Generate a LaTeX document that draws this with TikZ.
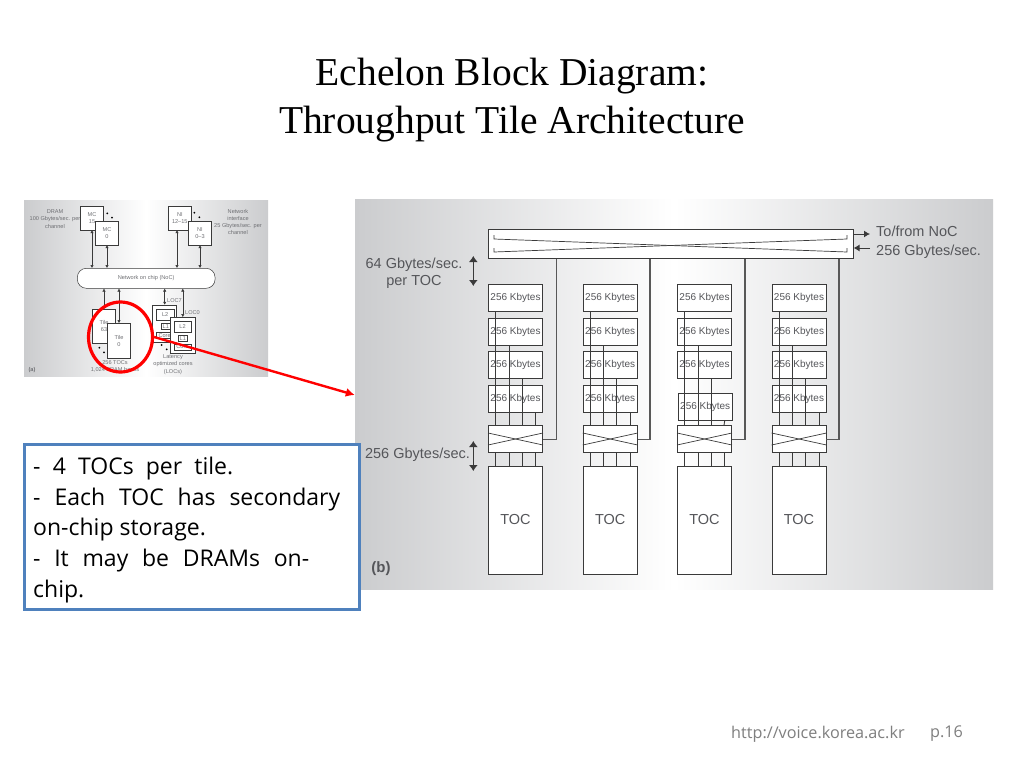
\documentclass[tikz,border=0pt]{standalone}
\usepackage{fontspec}
\usetikzlibrary{arrows.meta,shapes.geometric}
\setmainfont{Liberation Serif}
\setsansfont{Liberation Sans}
\newfontfamily\boxfont{Open Sans}
\definecolor{ink}{HTML}{3A3A3A}
\definecolor{label}{HTML}{55565A}
\definecolor{edge}{HTML}{CBCCCE}
\definecolor{callout}{HTML}{4F81BD}
\definecolor{foot}{HTML}{7F7F7F}
\tikzset{panel/.style={left color=edge,right color=edge,middle color=white,inner sep=0pt},
kbox/.style={draw=ink,fill=white,line width=.9pt,minimum width=54pt,minimum height=27pt,inner sep=0pt,font=\sffamily\fontsize{10}{12}\selectfont,text=label},
xbar/.style={draw=ink,fill=white,line width=.9pt,minimum width=54pt,minimum height=27pt,inner sep=0pt},
toc/.style={draw=ink,fill=white,line width=.9pt,minimum width=54pt,minimum height=108pt,font=\sffamily\fontsize{14.5}{15}\selectfont,text=label},
wire/.style={draw=ink,line width=.9pt},
link/.style={draw=ink!85,line width=1.3pt},
thin/.style={draw=ink,line width=.7pt},
lab/.style={font=\sffamily\fontsize{14.5}{17}\selectfont,text=label,align=center,inner sep=0pt},
tiny/.style={font=\sffamily\fontsize{5.6}{7.2}\selectfont,text=label!85,align=center,inner sep=0pt},
abox/.style={draw=ink,fill=white,line width=.5pt,inner sep=0pt,font=\sffamily\fontsize{5.6}{7.2}\selectfont,text=label!85,align=center},
aarrow/.style={{Latex[length=3pt,width=3.4pt]}-{Latex[length=3pt,width=3.4pt]},line width=.5pt,ink},
dbl/.style={{Latex[length=6pt,width=9pt]}-{Latex[length=6pt,width=9pt]},line width=1pt,ink},
dot/.style={circle,fill=black,inner sep=0pt,minimum size=2pt}}
\newcommand{\wire}[3]{\draw[wire]([xshift=#1pt]#2.south)--([xshift=#1pt]#3.north);}
\newcommand{\toclabel}{\raisebox{2pt}{TOC}}
\begin{document}
\begin{tikzpicture}[x=1pt,y=-1pt]
\useasboundingbox (0,0) rectangle (1024,768);
\fill[white] (0,0) rectangle (1024,768);
\node[font=\fontsize{39.5}{48}\selectfont,align=center,inner sep=0pt] (title) at (512,100) {Echelon Block Diagram:\\Throughput Tile Architecture};
% small panel
\node[panel,minimum width=244pt,minimum height=176pt] (pa) at (146,288) {};
\node[abox,minimum width=22.6pt,minimum height=23.3pt] (mc15) at (92,218.3) {MC\\15};
\node[abox,minimum width=22.6pt,minimum height=23.3pt] (mc0) at (107,233.3) {MC\\0};
\node[abox,minimum width=23.6pt,minimum height=23.3pt] (ni12) at (179.8,218.3) {NI\\12--15};
\node[abox,minimum width=23.4pt,minimum height=23.3pt] (ni0) at (200,233.3) {NI\\0--3};
\node[abox,rounded corners=9pt,minimum width=137.7pt,minimum height=20pt] (noc) at (146.2,278.3) {Network on chip (NoC)};
\node[abox,minimum width=23.4pt,minimum height=33.7pt] (t63) at (104,326.2) {Tile\\63};
\node[abox,minimum width=23.4pt,minimum height=34.7pt] (t0) at (119,340.7) {Tile\\0};
\node[abox,minimum width=24pt,minimum height=37pt] (loc7) at (164.7,323.5) {};
\node[abox,minimum width=18.3pt,minimum height=11pt] (l27) at (165.2,314.8) {L2};
\node[abox,minimum width=8.3pt,minimum height=6pt] (l17) at (165.8,326.3) {L1};
\node[abox,minimum width=17.3pt,minimum height=6pt] (c7) at (164.6,335.3) {Core};
\node[abox,minimum width=24.3pt,minimum height=36pt] (loc0) at (182.8,335.3) {};
\node[abox,minimum width=17pt,minimum height=10.6pt] (l20) at (182.5,327) {L2};
\node[abox,minimum width=9pt,minimum height=5.3pt] (l10) at (182.8,338.3) {L1};
\node[abox,minimum width=17pt,minimum height=6pt] (c0) at (182.5,347) {Core};
\draw[aarrow](mc15.south)--(mc15.south|-noc.north);\draw[aarrow](mc0.south)--(mc0.south|-noc.north);
\draw[aarrow]([xshift=-2.8pt]ni12.south)--([xshift=-2.8pt]ni12.south|-noc.north);\draw[aarrow](ni0.south)--(ni0.south|-noc.north);
\draw[aarrow](t63.north)--(t63.north|-noc.south);\draw[aarrow](t0.north)--(t0.north|-noc.south);
\draw[aarrow](loc7.north)--(loc7.north|-noc.south);\draw[aarrow](loc0.north)--(loc0.north|-noc.south);
\node[dot] (d1) at (107.3,213.3) {};\node[dot] (d2) at (112,217.7) {};
\node[dot] (d3) at (194.3,212.7) {};\node[dot] (d4) at (199.3,217.3) {};
\node[dot] (d5) at (99.3,347.7) {};\node[dot] (d6) at (104,352.3) {};
\node[dot] (d7) at (161.7,345) {};\node[dot] (d8) at (166.7,349.3) {};
\node[tiny] (dram) at (55,219) {DRAM\\100 Gbytes/sec. per\\channel};
\node[tiny] (net) at (238,222) {Network\\interface\\25 Gbytes/sec. per\\channel};
\node[tiny] (tocs) at (115,366) {256 TOCs\\1,024 SRAM banks};
\node[tiny] (lat) at (173,364.5) {Latency\\optimized cores\\(LOCs)};
\node[tiny] (n7) at (174.5,301) {LOC7};\node[tiny] (n0) at (192.5,313) {LOC0};
\node[tiny,font=\sffamily\bfseries\fontsize{5.6}{7}\selectfont] (pla) at (32,370) {(a)};
% big panel
\node[panel,minimum width=638pt,minimum height=390pt] (pb) at (674,394) {};
\node[draw=ink,fill=white,line width=1pt,minimum width=365pt,minimum height=29pt,inner sep=0pt] (noc2) at (670.5,243.5) {};
\draw[thin](494,235)--(494,239)--(847,252)--(847,248);\draw[thin](494,248)--(494,252)--(847,239)--(847,235);
% col 1
\node[kbox] (a1) at (515.5,297.5) {256 Kbytes};\node[kbox] (b1) at (515.5,331.5) {256 Kbytes};\node[kbox] (c1) at (515.5,365) {256 Kbytes};\node[kbox] (e1) at (515.5,398.7) {256 Kbytes};
\node[xbar] (x1) at (515.5,439.3) {};\node[toc] (t1) at (515.5,520.5) {\toclabel};
% col 2
\node[kbox] (a2) at (610.2,297.5) {256 Kbytes};\node[kbox] (b2) at (610.2,331.5) {256 Kbytes};\node[kbox] (c2) at (610.2,365) {256 Kbytes};\node[kbox] (e2) at (610.2,398.7) {256 Kbytes};
\node[xbar] (x2) at (610.2,439.3) {};\node[toc] (t2) at (610.2,520.5) {\toclabel};
% col 3
\node[kbox] (a3) at (704.5,297.5) {256 Kbytes};\node[kbox] (b3) at (704.5,331.5) {256 Kbytes};\node[kbox] (c3) at (704.5,365) {256 Kbytes};\node[kbox] (e3) at (705.2,406.7) {256 Kbytes};
\node[xbar] (x3) at (704.5,439.3) {};\node[toc] (t3) at (704.5,520.5) {\toclabel};
% col 4
\node[kbox] (a4) at (799,297.5) {256 Kbytes};\node[kbox] (b4) at (799,331.5) {256 Kbytes};\node[kbox] (c4) at (799,365) {256 Kbytes};\node[kbox] (e4) at (799,398.7) {256 Kbytes};
\node[xbar] (x4) at (799,439.3) {};\node[toc] (t4) at (799,520.5) {\toclabel};
% wires
\wire{-20}{a1}{x1}\wire{-6.5}{b1}{x1}\wire{6.5}{c1}{x1}\wire{20}{e1}{x1}
\wire{-20}{a2}{x2}\wire{-6.5}{b2}{x2}\wire{6.5}{c2}{x2}\wire{20}{e2}{x2}
\wire{-20}{a3}{x3}\wire{-6.5}{b3}{x3}\wire{6.5}{c3}{x3}\wire{19.5}{e3}{x3}
\wire{-20}{a4}{x4}\wire{-6.5}{b4}{x4}\wire{6.5}{c4}{x4}\wire{20}{e4}{x4}
\wire{-20}{x1}{t1}\wire{-6.5}{x1}{t1}\wire{6.5}{x1}{t1}\wire{20}{x1}{t1}
\wire{-20}{x2}{t2}\wire{-6.5}{x2}{t2}\wire{6.5}{x2}{t2}\wire{20}{x2}{t2}
\wire{-20}{x3}{t3}\wire{-6.5}{x3}{t3}\wire{6.5}{x3}{t3}\wire{20}{x3}{t3}
\wire{-20}{x4}{t4}\wire{-6.5}{x4}{t4}\wire{6.5}{x4}{t4}\wire{20}{x4}{t4}
% crossings
\draw[thin](x1.west|-0,433)--(x1.east|-0,445);\draw[thin](x1.west|-0,445)--(x1.east|-0,433);
\draw[thin](x2.west|-0,433)--(x2.east|-0,445);\draw[thin](x2.west|-0,445)--(x2.east|-0,433);
\draw[thin](x3.west|-0,433)--(x3.east|-0,445);\draw[thin](x3.west|-0,445)--(x3.east|-0,433);
\draw[thin](x4.west|-0,433)--(x4.east|-0,445);\draw[thin](x4.west|-0,445)--(x4.east|-0,433);
% links to the bar
\draw[link](x1.east)-|(556.3,0|-noc2.south);\draw[link](x2.east)-|(650,0|-noc2.south);
\draw[link](x3.east)-|(745,0|-noc2.south);\draw[link](x4.east)-|(839,0|-noc2.south);
% labels
\coordinate (to1) at (870,234);\coordinate (to2) at (870,248);
\draw[-{Latex[length=6pt,width=7pt]},line width=1pt,ink](noc2.east|-to1)--(to1);
\draw[-{Latex[length=6pt,width=7pt]},line width=1pt,ink](to2)--(noc2.east|-to2);
\node[lab,align=left,anchor=west,font=\sffamily\fontsize{14.5}{19}\selectfont] (ltn) at (876,242.5) {To/from NoC\\256 Gbytes/sec.};
\node[lab,font=\sffamily\fontsize{14.5}{17.5}\selectfont] (l64) at (414,273) {64 Gbytes/sec.\\per TOC};
\node[lab] (l256) at (417.5,455) {256 Gbytes/sec.};
\coordinate (p1) at (473.3,256);\coordinate (p2) at (473.3,286);\coordinate (q1) at (473.3,441);\coordinate (q2) at (473.3,471);
\draw[dbl](p1)--(p2);\draw[dbl](q1)--(q2);
\node[lab,font=\sffamily\bfseries\fontsize{15}{16}\selectfont] (plb) at (381,569) {(b)};
% callouts
\node[draw=callout,fill=white,line width=2.2pt,minimum width=335pt,minimum height=165pt,inner sep=0pt] (note) at (192,527) {};
\node[anchor=north west,inner sep=0pt,align=left,font=\boxfont\fontsize{23}{30.6}\selectfont] (notetxt) at (33,457) {\makebox[200pt][s]{- 4 TOCs per tile.}\\\makebox[307pt][s]{- Each TOC has secondary}\\on-chip storage.\\\makebox[276pt][s]{- It may be DRAMs on-}\\chip.};
\node[draw=red,ellipse,line width=3.2pt,minimum width=64pt,minimum height=70pt,inner sep=0pt] (ring) at (120.5,337) {};
\coordinate (hit) at (pb.west|-0,395);
\draw[red,line width=2.4pt,-{Latex[length=9pt,width=9pt]}](ring.east)--(hit);
% footer
\node[anchor=west,inner sep=0pt,text=foot,font=\boxfont\fontsize{16.2}{18}\selectfont] (url) at (731,734) {http://voice.korea.ac.kr};
\node[anchor=west,inner sep=0pt,text=foot,font=\boxfont\fontsize{16.2}{18}\selectfont] (page) at (930,734) {p.16};
\end{tikzpicture}
\end{document}
